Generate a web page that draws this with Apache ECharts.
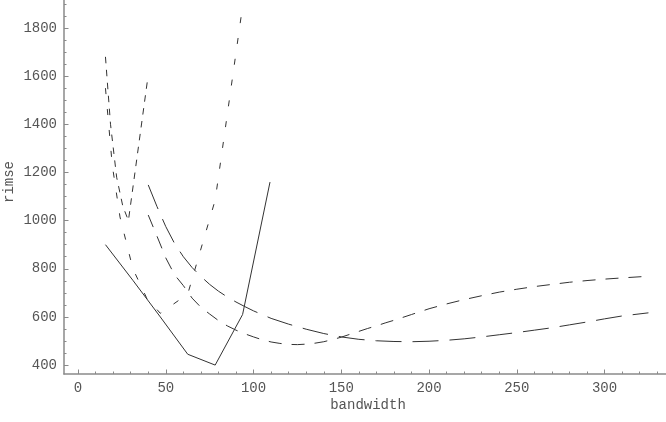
<!DOCTYPE html>
<html>
<head>
<meta charset="utf-8">
<script src="https://cdn.jsdelivr.net/npm/echarts@6/dist/echarts.min.js"></script>
<style>
html,body{margin:0;padding:0;background:#fff;}
#c{width:666px;height:422px;}
</style>
</head>
<body>
<div id="c"></div>
<script>
// ---- data ----
var xMajorTicks = [0, 50, 100, 150, 200, 250, 300];
var xMinorTicks = [0,10,20,30,40,50,60,70,80,90,100,110,120,130,140,150,160,170,180,190,200,210,220,230,240,250,260,270,280,290,300,310,320,330];
var yMajorTicks = [400, 600, 800, 1000, 1200, 1400, 1600, 1800];
var yMinorTicks = [400,450,500,550,600,650,700,750,800,850,900,950,1000,1050,1100,1150,1200,1250,1300,1350,1400,1450,1500,1550,1600,1650,1700,1750,1800,1850,1900];

// solid line
var solidX = [15.625, 31.25, 46.875, 62.5, 78.125, 93.75, 109.375];
var solidY = [900, 752, 600, 445, 400, 610, 1160];

// fine dashed V-shaped curve
var vX = [15.625, 18.5, 22, 25.5, 28.7, 39.7];
var vY = [1680, 1400, 1180, 1060, 1000, 1590];

// sparse fine dashed curve
var sparseX = [15.625, 19.5, 23.9, 31.25, 39, 46.875, 62.5, 78.125, 93.75];
var sparseY = [1550, 1230, 1015, 800, 680, 615, 695, 1085, 1890];

// medium dashed curve (ends near 770)
var medX = [40,45,50,55,60,65,70,75,80,85,90,95,100,105,110,115,120,125,130,135,140,145,150,155,160,165,170,175,180,185,190,195,200,210,220,230,240,250,260,270,280,290,300,310,325];
var medY = [1023,935,845,775,730,678,640,612,585,563,545,530,517,505,496,490,486,485,487,491,497,506,516,528,540,552,563,575,586,598,610,622,634,654,672,688,703,715,726,735,744,751,757,762,769];

// long dashed curve (ends near 615)
var longX = [40,45,50,55,60,65,70,75,80,85,90,95,100,110,120,130,140,150,160,170,180,190,200,210,220,230,240,250,260,270,280,290,300,310,325];
var longY = [1148,1058,975,905,850,805,768,735,707,683,662,643,625,594,570,549,531,517,507,501,498,497,499,503,509,517,526,535,545,555,567,579,592,604,617];

function pairs(xs, ys){ var o=[]; for(var i=0;i<xs.length;i++) o.push([xs[i], ys[i]]); return o; }

var axisGray = '#8a8a8a';
var labelGray = '#555';
var lineColor = '#333';
var font = 'Liberation Mono';

var chart = echarts.init(document.getElementById('c'), null, {renderer:'canvas'});

var X_MIN = -8, X_MAX = 335, Y_MIN = 363, Y_MAX = 1916;
function plain(v){ return String(v); }

function xAx(show, ticks, len, labels){
  return {
    type:'value', min:X_MIN, max:X_MAX, position:'bottom',
    axisLine:{show:show, onZero:false, lineStyle:{color:axisGray, width:1.5}},
    axisTick:{show:true, inside:true, length:len, customValues:ticks, lineStyle:{color:axisGray, width:1}},
    axisLabel:{show:labels, customValues:xMajorTicks, formatter:plain, color:labelGray, fontFamily:font, fontSize:14, margin:7},
    splitLine:{show:false}
  };
}
function yAx(show, ticks, len, labels){
  return {
    type:'value', min:Y_MIN, max:Y_MAX, position:'left',
    axisLine:{show:show, onZero:false, lineStyle:{color:axisGray, width:1.5}},
    axisTick:{show:true, inside:true, length:len, customValues:ticks, lineStyle:{color:axisGray, width:1}},
    axisLabel:{show:labels, customValues:yMajorTicks, formatter:plain, color:labelGray, fontFamily:font, fontSize:14, margin:7},
    splitLine:{show:false}
  };
}

function ser(name, xs, ys, type){
  return {
    name:name, type:'line', xAxisIndex:0, yAxisIndex:0,
    data:pairs(xs, ys), symbol:'none', smooth:false,
    lineStyle:{color:lineColor, width:1, type:type}
  };
}

chart.setOption({
  animation:false,
  backgroundColor:'#fff',
  grid:{left:64, right:0, top:0, bottom:48},
  xAxis:[ xAx(true, xMajorTicks, 4.5, true), xAx(false, xMinorTicks, 2.5, false) ],
  yAxis:[ yAx(true, yMajorTicks, 4.5, true), yAx(false, yMinorTicks, 2.5, false) ],
  graphic:[
    {type:'text', x:368, y:405, style:{text:'bandwidth', font:'14px "Liberation Mono"', fill:labelGray, textAlign:'center', textVerticalAlign:'middle'}},
    {type:'text', x:9, y:182, rotation:Math.PI/2, style:{text:'rimse', font:'14px "Liberation Mono"', fill:labelGray, textAlign:'center', textVerticalAlign:'middle'}}
  ],
  series:[
    ser('solid', solidX, solidY, 'solid'),
    ser('v', vX, vY, [6.5, 6.5]),
    ser('sparse', sparseX, sparseY, [6, 15]),
    ser('medium', medX, medY, [13, 10]),
    ser('long', longX, longY, [26, 11])
  ]
});
</script>
</body>
</html>
